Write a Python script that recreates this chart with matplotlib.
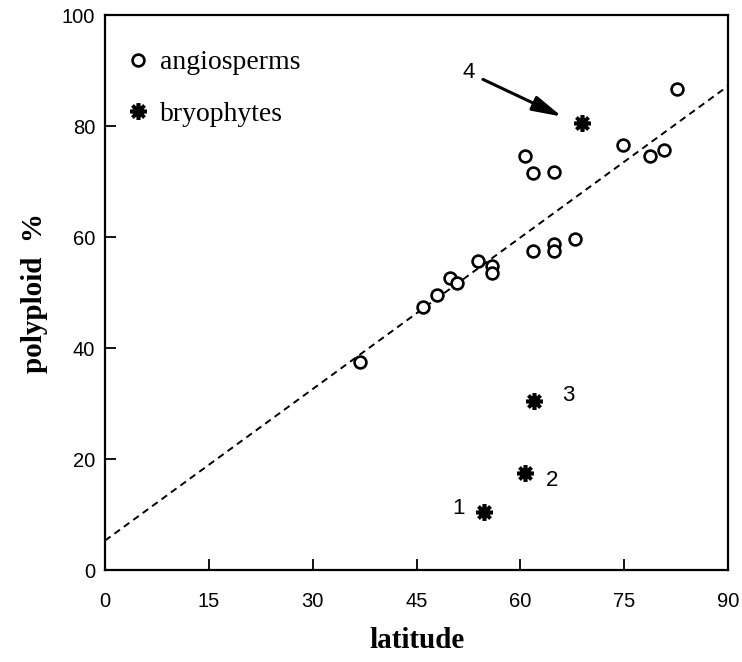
import matplotlib
matplotlib.use('Agg')
import matplotlib.pyplot as plt
from matplotlib.lines import Line2D

# dados (latitude x % de poliploides)
angio_lat = [36.8, 46.0, 47.9, 49.9, 50.8, 53.9, 55.9, 55.9, 60.7, 61.8,
             64.8, 61.8, 64.9, 64.9, 67.9, 74.8, 78.8, 80.8, 82.7]
angio_pct = [37.4, 47.4, 49.5, 52.6, 51.7, 55.6, 54.8, 53.5, 74.6, 71.6,
             71.7, 57.5, 58.7, 57.5, 59.6, 76.6, 74.6, 75.7, 86.6]

bryo_lat = [54.8, 60.7, 62.0, 68.9]
bryo_pct = [10.4, 17.4, 30.5, 80.5]
bryo_lab = ['1', '2', '3', '4']

# reta de regressão (extremos)
fit_x = [0, 90]
fit_y = [5.3, 87.2]

xticks = [0, 15, 30, 45, 60, 75, 90]
yticks = [0, 20, 40, 60, 80, 100]

serif = 'Liberation Serif'
sans = 'Liberation Sans'
star = (8, 2, 0)

fig = plt.figure(figsize=(7.42, 6.62), dpi=100)
ax = fig.add_axes([105 / 742, 1 - 570 / 662, 623 / 742, 555 / 662])

ax.plot(fit_x, fit_y, color='black', lw=1.4, linestyle=(0, (3.5, 2.5)))
ax.plot(angio_lat, angio_pct, 'o', ms=8.5, mew=1.9, mfc='white', mec='black',
        linestyle='none')
ax.plot(bryo_lat, bryo_pct, linestyle='none', marker=star, ms=12, mew=2.6,
        color='black')

# rótulos das briófitas
offsets = {'1': (-3.7, 0.6), '2': (3.9, -1.2), '3': (5.0, 1.0)}
for x, y, lab in zip(bryo_lat, bryo_pct, bryo_lab):
    if lab in offsets:
        dx, dy = offsets[lab]
        ax.text(x + dx, y + dy, lab, fontsize=16, family=sans,
                ha='center', va='center')

# ponto 4 com seta
ax.text(52.5, 89.7, bryo_lab[3], fontsize=16, family=sans,
        ha='center', va='center')
ax.annotate('', xy=(bryo_lat[3] - 2.9, bryo_pct[3] + 1.2), xytext=(54.6, 88.4),
            arrowprops=dict(arrowstyle='-|>,head_length=1.0,head_width=0.26',
                            mutation_scale=18, lw=2.2, color='black',
                            shrinkA=0, shrinkB=0))

ax.set_xlim(0, 90)
ax.set_ylim(0, 100)
ax.set_xticks(xticks)
ax.set_yticks(yticks)
ax.tick_params(direction='in', length=8, width=1.3)
ax.tick_params(axis='x', pad=16)
ax.tick_params(axis='y', pad=7)
for lbl in ax.get_xticklabels() + ax.get_yticklabels():
    lbl.set_fontsize(14.5)
    lbl.set_family(sans)
for s in ax.spines.values():
    s.set_linewidth(1.6)

ax.set_xlabel('latitude', fontsize=21, family=serif, fontweight='bold',
              labelpad=11)
ax.set_ylabel('polyploid  %', fontsize=21, family=serif, fontweight='bold',
              labelpad=10)

handles = [
    Line2D([], [], marker='o', ms=8.5, mew=1.9, mfc='white', mec='black',
           linestyle='none'),
    Line2D([], [], marker=star, ms=12, mew=2.6, color='black',
           linestyle='none'),
]
ax.legend(handles, ['angiosperms', 'bryophytes'], loc='upper left',
          bbox_to_anchor=(22 / 623, 0.937), frameon=False, borderpad=0,
          borderaxespad=0, handlelength=0.8, handletextpad=0.4,
          labelspacing=0.93, prop={'family': serif, 'size': 20})

fig.savefig('out.png', dpi=100)
